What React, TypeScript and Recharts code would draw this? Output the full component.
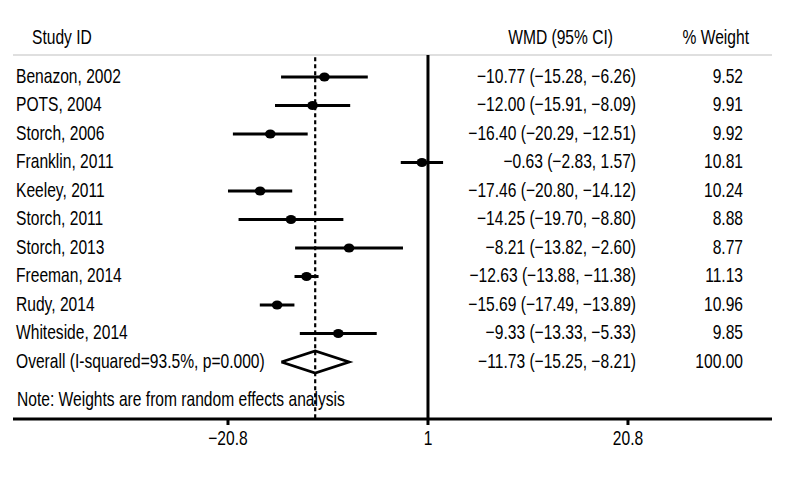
import { ScatterChart, Scatter, XAxis, YAxis, ErrorBar, ReferenceLine } from 'recharts'

const studies = [
  'Benazon, 2002',
  'POTS, 2004',
  'Storch, 2006',
  'Franklin, 2011',
  'Keeley, 2011',
  'Storch, 2011',
  'Storch, 2013',
  'Freeman, 2014',
  'Rudy, 2014',
  'Whiteside, 2014',
]
const wmd = [-10.77, -12.0, -16.4, -0.63, -17.46, -14.25, -8.21, -12.63, -15.69, -9.33]
const lower = [-15.28, -15.91, -20.29, -2.83, -20.8, -19.7, -13.82, -13.88, -17.49, -13.33]
const upper = [-6.26, -8.09, -12.51, 1.57, -14.12, -8.8, -2.6, -11.38, -13.89, -5.33]
const weights = [9.52, 9.91, 9.92, 10.81, 10.24, 8.88, 8.77, 11.13, 10.96, 9.85]

const overallLabel = 'Overall (I-squared=93.5%, p=0.000)'
const overallWmd = -11.73
const overallLower = -15.25
const overallUpper = -8.21
const overallWeight = 100.0

const xTicks = [-20.8, 0, 20.8]
const xTickLabels = ['−20.8', '1', '20.8']

const headers = { study: 'Study ID', wmd: 'WMD (95% CI)', weight: '% Weight' }
const note = 'Note:  Weights are from random effects analysis'

// row positions on the (reversed) y axis
const headerRow = -0.37
const ruleRow = 0.23
const overallRow = studies.length + 1
const noteRow = 12.33
const bottomRow = 13

const FONT = "'Liberation Sans', Arial, sans-serif"
const FS = 20
const SQUEEZE = 0.78

const fmt = (v: number) => v.toFixed(2).replace('-', '−')
const ci = (e: number, lo: number, hi: number) => `${fmt(e)} (${fmt(lo)}, ${fmt(hi)})`

const studyData = studies.map((name, i) => ({
  name,
  x: wmd[i],
  y: i + 1,
  err: [wmd[i] - lower[i], upper[i] - wmd[i]],
  ci: ci(wmd[i], lower[i], upper[i]),
  weight: weights[i].toFixed(2),
}))

const overallData = [
  {
    name: overallLabel,
    x: overallWmd,
    y: overallRow,
    ci: ci(overallWmd, overallLower, overallUpper),
    weight: overallWeight.toFixed(2),
  },
]

const dh = 0.39
const diamondData = [
  { x: overallLower, y: overallRow },
  { x: overallWmd, y: overallRow - dh },
  { x: overallUpper, y: overallRow },
  { x: overallWmd, y: overallRow + dh },
  { x: overallLower, y: overallRow },
]

const textData = [
  { x: 0, y: headerRow, kind: 'header' },
  { x: 0, y: noteRow, kind: 'note' },
]

const COL_LABEL = 16
const COL_CI = 636
const COL_WEIGHT = 743

// condensed-looking text: regular sans squeezed horizontally
function T({ x, y, anchor = 'start', children }: any) {
  return (
    <text
      transform={`translate(${x},${y - 1}) scale(${SQUEEZE},1)`}
      dominantBaseline="central"
      textAnchor={anchor}
      fontFamily={FONT}
      fontSize={FS}
      fill="#000"
    >
      {children}
    </text>
  )
}

function RowText({ cy, payload }: any) {
  return (
    <g>
      <T x={COL_LABEL} y={cy}>
        {payload.name}
      </T>
      <T x={COL_CI} y={cy} anchor="end">
        {payload.ci}
      </T>
      <T x={COL_WEIGHT} y={cy} anchor="end">
        {payload.weight}
      </T>
    </g>
  )
}

function StudyShape(props: any) {
  return (
    <g>
      <ellipse cx={props.cx} cy={props.cy} rx={5.3} ry={4.5} fill="#000" />
      <RowText {...props} />
    </g>
  )
}

function TextShape({ cy, payload }: any) {
  if (payload.kind === 'header') {
    return (
      <g>
        <T x={32} y={cy}>
          {headers.study}
        </T>
        <T x={613} y={cy} anchor="end">
          {headers.wmd}
        </T>
        <T x={749} y={cy} anchor="end">
          {headers.weight}
        </T>
      </g>
    )
  }
  return (
    <T x={17} y={cy}>
      {note}
    </T>
  )
}

function Tick({ x, y, payload }: any) {
  const label = xTickLabels[xTicks.indexOf(payload.value)] ?? String(payload.value)
  return (
    <text
      transform={`translate(${x},${y}) scale(${SQUEEZE},1)`}
      dy="0.71em"
      textAnchor="middle"
      fontFamily={FONT}
      fontSize={FS}
      fill="#000"
    >
      {label}
    </text>
  )
}

export default function App() {
  return (
    <div style={{ position: 'absolute', left: 0, top: 0, background: '#fff' }}>
      <ScatterChart width={800} height={480} margin={{ top: 20, right: 28, left: 13, bottom: 21 }}>
        <XAxis
          type="number"
          dataKey="x"
          domain={[-43.16, 35.78]}
          ticks={xTicks}
          height={40}
          tickSize={6}
          tickMargin={6}
          axisLine={{ stroke: '#000', strokeWidth: 3 }}
          tickLine={{ stroke: '#000', strokeWidth: 3 }}
          tick={<Tick />}
          allowDataOverflow
        />
        <YAxis type="number" dataKey="y" domain={[-1, bottomRow]} reversed hide allowDataOverflow />
        <ReferenceLine y={ruleRow} stroke="#d4d4d4" strokeWidth={1.5} />
        <ReferenceLine
          segment={[
            { x: 0, y: ruleRow },
            { x: 0, y: bottomRow },
          ]}
          stroke="#000"
          strokeWidth={3}
        />
        <ReferenceLine
          segment={[
            { x: overallWmd, y: ruleRow + 0.08 },
            { x: overallWmd, y: bottomRow },
          ]}
          stroke="#000"
          strokeWidth={2.2}
          strokeDasharray="4 3"
        />
        <Scatter data={studyData} shape={StudyShape} isAnimationActive={false}>
          <ErrorBar dataKey="err" direction="x" width={0} stroke="#000" strokeWidth={3} />
        </Scatter>
        <Scatter
          data={diamondData}
          line={{ stroke: '#000', strokeWidth: 2.8 }}
          lineType="joint"
          shape={() => <g />}
          isAnimationActive={false}
        />
        <Scatter data={overallData} shape={RowText} isAnimationActive={false} />
        <Scatter data={textData} shape={TextShape} isAnimationActive={false} />
      </ScatterChart>
    </div>
  )
}
